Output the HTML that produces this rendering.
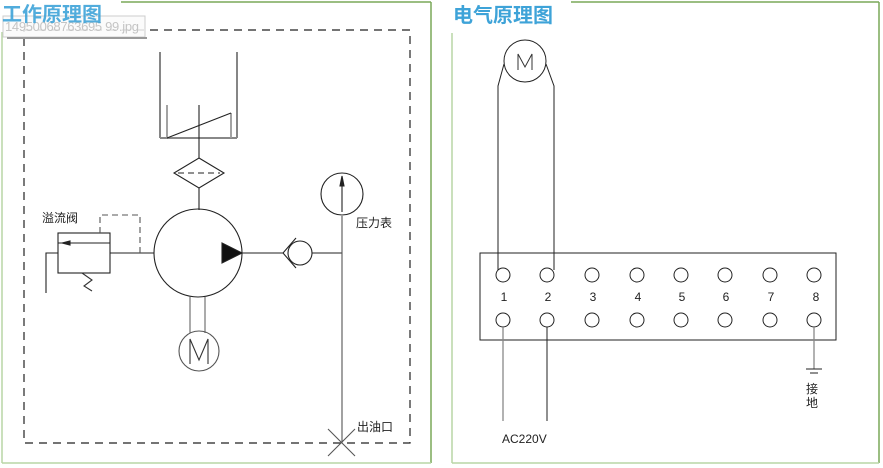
<!DOCTYPE html>
<html><head><meta charset="utf-8"><style>
html,body{margin:0;padding:0;background:#fff;}
svg{display:block;}
text{font-family:"Liberation Sans","Noto Sans CJK SC",sans-serif;}
</style></head><body>
<svg width="883" height="468" viewBox="0 0 883 468" xmlns="http://www.w3.org/2000/svg">
<rect width="883" height="468" fill="#fff"/>
<!-- Left panel border -->
<line x1="121" y1="2" x2="431" y2="2" stroke="#7aa858" stroke-width="1.5"/>
<line x1="431" y1="2" x2="431" y2="463" stroke="#7aa858" stroke-width="1.5"/>
<line x1="2" y1="32" x2="2" y2="463" stroke="#b9d6a6" stroke-width="1.5"/>
<line x1="2" y1="463" x2="431" y2="463" stroke="#b9d6a6" stroke-width="1.5"/>
<!-- dashed rect -->
<rect x="24" y="30" width="386" height="413" fill="none" stroke="#222" stroke-width="1.2" stroke-dasharray="8,6"/>
<!-- tooltip -->
<rect x="3" y="16" width="142" height="21" fill="#fafafa" fill-opacity="0.85" stroke="#ccc" stroke-width="1"/>
<line x1="7" y1="38" x2="147" y2="38" stroke="#999" stroke-width="2"/>
<text x="5" y="31" font-size="13" fill="#c4c4c4" textLength="134">14950068763695 99.jpg</text>
<text x="2" y="21" font-size="20" font-weight="bold" fill="#3ea3d8" fill-opacity="0.9">工作原理图</text>
<g stroke="#222" stroke-width="1.1" fill="none">
<!-- tank -->
<line x1="160" y1="52" x2="160" y2="138"/>
<line x1="237" y1="52" x2="237" y2="138"/>
<line x1="160" y1="138" x2="237" y2="138" stroke="#888" stroke-width="2"/>
<line x1="167" y1="105" x2="167" y2="138" stroke="#999" stroke-width="1.8"/>
<line x1="231" y1="113" x2="231" y2="138" stroke="#999" stroke-width="1.8"/>
<line x1="167" y1="138" x2="231" y2="113"/>
<line x1="199" y1="105" x2="199" y2="158"/>
<!-- filter -->
<polygon points="199,158 224,173 199,188 174,173"/>
<line x1="178" y1="173" x2="220" y2="173" stroke-dasharray="6,4"/>
<line x1="199" y1="188" x2="199" y2="210"/>
<!-- pump -->
<circle cx="198" cy="253" r="44"/>
<polygon points="222,243 242,253 222,263" fill="#111"/>
<line x1="242" y1="253" x2="283" y2="253"/>
<polyline points="296,238 283,253 296,268"/>
<circle cx="300" cy="253" r="12"/>
<line x1="312" y1="253" x2="342" y2="253"/>
<line x1="342" y1="216" x2="342" y2="443" stroke="#555"/>
<circle cx="342" cy="194" r="21"/>
<line x1="342" y1="212" x2="342" y2="180"/>
<polygon points="342,176 340,186 344,186" fill="#222"/>
<line x1="328" y1="429" x2="355" y2="456" stroke="#555"/>
<line x1="355" y1="429" x2="328" y2="456" stroke="#555"/>
<!-- motor -->
<line x1="190" y1="297" x2="190" y2="333" stroke="#666"/>
<line x1="205" y1="297" x2="205" y2="333" stroke="#666"/>
<circle cx="199" cy="351" r="20" stroke="#555"/>
<polyline points="190,364 190,339 199,360 208,339 208,364" stroke="#333"/>
<!-- relief valve -->
<rect x="58" y="233" width="52" height="40"/>
<line x1="58" y1="243" x2="110" y2="243"/>
<polygon points="62,243 70,241 70,245" fill="#222"/>
<line x1="110" y1="253" x2="154" y2="253"/>
<polyline points="100,233 100,215 140,215 140,253" stroke="#555" stroke-dasharray="6,4"/>
<polyline points="58,253 46,253 46,293"/>
<polyline points="82,273 92,280 84,286 92,291" stroke="#333"/>
</g>
<text x="42" y="222" font-size="12" fill="#222">溢流阀</text>
<text x="356" y="227" font-size="12" fill="#222">压力表</text>
<text x="357" y="431" font-size="12" fill="#222">出油口</text>

<!-- Right panel -->
<line x1="571" y1="2" x2="879" y2="2" stroke="#7aa858" stroke-width="1.5"/>
<line x1="879" y1="2" x2="879" y2="463" stroke="#7aa858" stroke-width="1.5"/>
<line x1="452" y1="33" x2="452" y2="463" stroke="#b9d6a6" stroke-width="1.5"/>
<line x1="452" y1="463" x2="879" y2="463" stroke="#b9d6a6" stroke-width="1.5"/>
<text x="453" y="22" font-size="20" font-weight="bold" fill="#3ea3d8">电气原理图</text>
<g stroke="#222" stroke-width="1" fill="none">
<circle cx="525" cy="61" r="21"/>
<polyline points="518,70 518,54 525,67 532,54 532,70" stroke="#333"/>
<polyline points="504,64 498,86 498,270"/>
<polyline points="546,64 554,86 554,270"/>
<rect x="480" y="253" width="356" height="87"/>
<g fill="#fff">
<circle cx="503" cy="275" r="7"/><circle cx="547" cy="275" r="7"/><circle cx="592" cy="275" r="7"/><circle cx="637" cy="275" r="7"/><circle cx="681" cy="275" r="7"/><circle cx="725" cy="275" r="7"/><circle cx="770" cy="275" r="7"/><circle cx="814" cy="275" r="7"/>
<circle cx="503" cy="320" r="7"/><circle cx="547" cy="320" r="7"/><circle cx="592" cy="320" r="7"/><circle cx="637" cy="320" r="7"/><circle cx="681" cy="320" r="7"/><circle cx="725" cy="320" r="7"/><circle cx="770" cy="320" r="7"/><circle cx="814" cy="320" r="7"/>
</g>
<line x1="503" y1="327" x2="503" y2="421" stroke="#888" stroke-width="1.3"/>
<line x1="547" y1="327" x2="547" y2="421"/>
<line x1="814" y1="327" x2="814" y2="369" stroke="#888" stroke-width="1.3"/>
<line x1="806" y1="369" x2="822" y2="369"/>
<line x1="810" y1="373" x2="818" y2="373"/>
</g>
<g font-size="12" fill="#222" text-anchor="middle">
<text x="504" y="301">1</text><text x="548" y="301">2</text><text x="593" y="301">3</text><text x="638" y="301">4</text><text x="682" y="301">5</text><text x="726" y="301">6</text><text x="771" y="301">7</text><text x="816" y="301">8</text>
</g>
<text x="502" y="443" font-size="12" fill="#222">AC220V</text>
<text x="812" y="393" font-size="12" fill="#222" text-anchor="middle">接</text>
<text x="812" y="407" font-size="12" fill="#222" text-anchor="middle">地</text>
</svg>
</body></html>
